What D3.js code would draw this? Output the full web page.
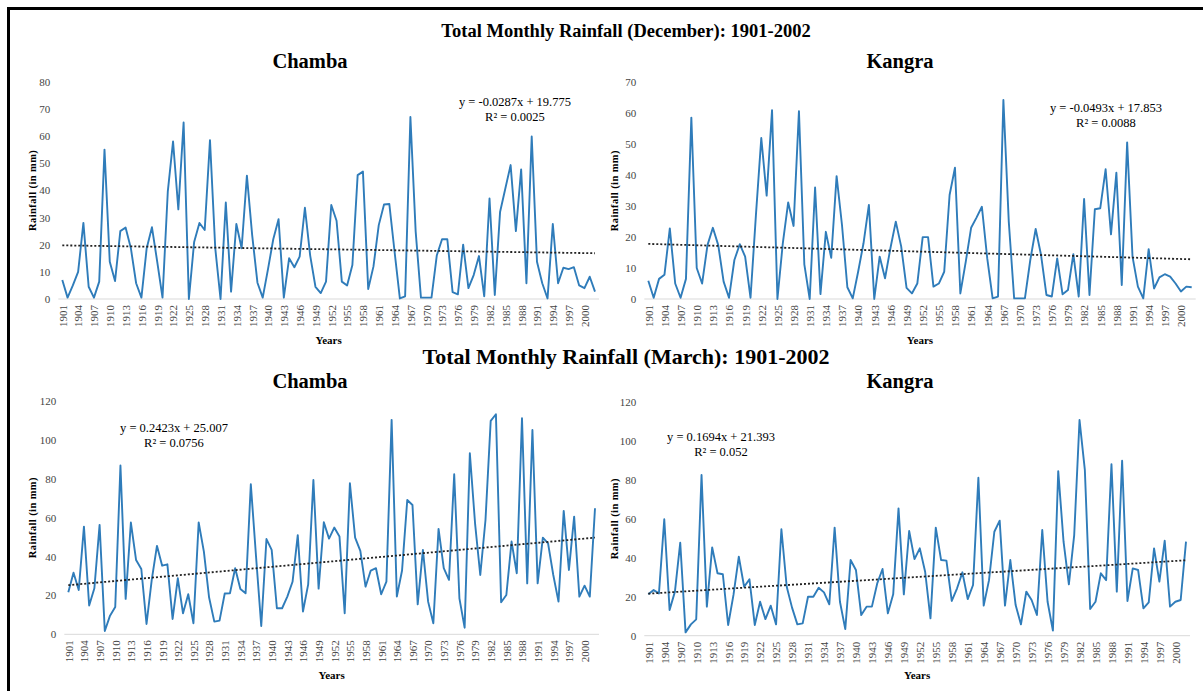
<!DOCTYPE html>
<html>
<head>
<meta charset="utf-8">
<script src="https://cdn.jsdelivr.net/npm/d3@7"></script>
<style>
  body { margin: 0; background: #fff; }
  svg { display: block; }
  text { font-family: "Liberation Serif", "Times New Roman", serif; }
</style>
</head>
<body>
<svg id="chart" width="1203" height="691"></svg>
<script>
// Years of record and the years shown on the category axis
const years = d3.range(1901, 2003);
const tickYears = d3.range(1901, 2003, 3);

// Total monthly rainfall (mm), one value per year 1901-2002
const chambaDec = [
  7, 0.5, 5, 10, 28, 4.5, 0.5, 6.4, 55, 13.7,
  6.6, 25, 26.3, 18.7, 5.8, 0.5, 18.7, 26.4, 13.7, 0.5,
  39.5, 58, 33, 65, 0, 21, 28, 25.4, 58.5, 18.7,
  0, 35.5, 2.7, 27.6, 18.7, 45.4, 23.5, 6, 0.5, 11,
  22, 29.4, 0.5, 15, 11.7, 15.6, 33.6, 16, 4.5, 2.2,
  6.4, 34.6, 28.8, 6.4, 5, 12.5, 45.6, 46.9, 3.7, 12,
  27.2, 34.8, 35, 17.4, 0.2, 1, 67, 24.8, 0.5, 0.5,
  0.5, 16, 22, 22, 2.5, 1.7, 20, 4, 8.8, 15.8,
  1, 37, 1.5, 32, 40.7, 49.3, 25, 47.7, 5.8, 59.8,
  13.7, 5.8, 0.2, 27.6, 5.8, 11.5, 11, 11.7, 5, 4,
  8.2, 2.7
];
const kangraDec = [
  5.9, 0.4, 6.5, 7.8, 22.8, 5, 0.4, 6.5, 58.6, 10,
  5, 17.4, 23, 17.4, 5.6, 0.4, 12.6, 17.7, 13.7, 0.4,
  27, 52, 33.4, 61, 0, 18, 31.2, 23.6, 60.7, 11.2,
  0, 36, 1.6, 21.7, 13.3, 39.7, 23.9, 3.8, 0.2, 8.8,
  18, 30.4, 0, 13.7, 6.7, 16.4, 25, 17, 3.6, 1.8,
  5, 20, 20, 4, 5, 8.8, 33.6, 42.4, 1.8, 12,
  23, 26.3, 29.8, 13.1, 0.2, 0.8, 64.3, 25, 0.2, 0.2,
  0.2, 12.6, 22.6, 14.2, 1.3, 0.8, 13.1, 1.5, 2.9, 14.5,
  0.8, 32.3, 1.3, 29, 29.3, 41.9, 20.9, 40.8, 4.5, 50.6,
  13.7, 4, 0.2, 16.1, 3.4, 7, 8, 7.2, 5, 2.4,
  4, 3.8
];
const chambaMar = [
  21.6, 31.7, 22.8, 55.4, 14.8, 23.7, 56.3, 1.7, 9.6, 14,
  86.8, 18.2, 57.5, 38.2, 33.6, 5.3, 28, 45.5, 35.3, 36,
  7.9, 28.8, 10.8, 20.6, 5.7, 57.5, 42.5, 18.9, 6.5, 7,
  21, 21.1, 34, 23.3, 21.1, 77.2, 40, 4.3, 49, 43.4,
  13.4, 13.4, 19.4, 27, 51, 11.7, 25.7, 79.4, 23.5, 57.6,
  49.2, 54.9, 50.3, 10.8, 77.7, 49.7, 42.9, 24.5, 32.8, 34,
  20.6, 27.1, 110.3, 19.4, 32.8, 69.1, 66.5, 15.4, 43.4, 16.8,
  5.7, 54.2, 34, 28, 82.3, 18.5, 3.4, 93.1, 57.1, 30.5,
  58.8, 109.8, 113.2, 16.5, 20.2, 47.7, 31.4, 111.1, 26.2, 105.1,
  26.2, 49.7, 46.8, 30.5, 16.8, 63.5, 33.1, 60.5, 19.4, 25,
  19.4, 64.8
];
const kangraMar = [
  21.2, 23.4, 21.7, 59.7, 13.2, 22.6, 47.7, 1.7, 5.8, 8.4,
  82.4, 14.9, 45.3, 32, 31.5, 5.5, 20.9, 40.5, 25.1, 28.9,
  5.5, 17.4, 8.5, 15.4, 5.8, 54.6, 25.1, 14.4, 5.8, 6.3,
  20, 20, 24.6, 22.2, 16.1, 55.4, 17.4, 3.4, 38.8, 33.7,
  10.6, 14.9, 14.9, 26.8, 34.2, 11.5, 21.2, 65.3, 21.2, 53.7,
  39.3, 44.8, 32.8, 8.9, 55.4, 38.8, 38.5, 17.8, 24.3, 32.5,
  18.8, 26, 81, 15.4, 28.5, 53.3, 59, 15.4, 38.8, 15.7,
  5.8, 22.6, 18.3, 10.6, 54.2, 17.4, 2.6, 84.4, 48.2, 26.3,
  51.6, 110.6, 85, 13.7, 17.4, 32, 28.5, 87.9, 22.6, 89.7,
  17.8, 34.5, 33.7, 14, 17.1, 44.8, 27.7, 48.7, 14.9, 17.4,
  18.3, 48.2
];

// Linear trend fits: [slope, intercept, R²], x = 1 for 1901 ... 102 for 2002
const chambaDecTrend = [-0.0287, 19.775, "0.0025"];
const kangraDecTrend = [-0.0493, 17.853, "0.0088"];
const chambaMarTrend = [0.2423, 25.007, "0.0756"];
const kangraMarTrend = [0.1694, 21.393, "0.052"];

// Value-axis ranges [max, step]
const chambaDecAxis = [80, 10];
const kangraDecAxis = [70, 10];
const chambaMarAxis = [120, 20];
const kangraMarAxis = [120, 20];

const sectionTitles = [
  "Total Monthly Rainfall (December): 1901-2002",
  "Total Monthly Rainfall (March): 1901-2002"
];

const svg = d3.select("#chart");
const W = 1203, H = 691;

svg.append("rect").attr("width", W).attr("height", H).attr("fill", "#fff");
// outer frame (runs off the right and bottom edges)
svg.append("rect")
  .attr("x", 8.5).attr("y", 8.5).attr("width", 1300).attr("height", 1000)
  .attr("fill", "none").attr("stroke", "#000").attr("stroke-width", 3);

// section headings
svg.append("text").attr("x", 626).attr("y", 37)
  .attr("text-anchor", "middle").attr("font-weight", "bold").attr("font-size", 18.5)
  .text(sectionTitles[0]);
svg.append("text").attr("x", 626).attr("y", 364)
  .attr("text-anchor", "middle").attr("font-weight", "bold").attr("font-size", 22)
  .text(sectionTitles[1]);

const panels = [
  { name: "Chamba", values: chambaDec, trend: chambaDecTrend, axis: chambaDecAxis,
    left: 62.3, right: 595, bottom: 299, top: 81.7,
    titleX: 310, titleY: 68, eqX: 515, eqY: 106, yTitleX: 36, yearsY: 344 },
  { name: "Kangra", values: kangraDec, trend: kangraDecTrend, axis: kangraDecAxis,
    left: 648.3, right: 1191.7, bottom: 299, top: 82.3,
    titleX: 900, titleY: 68, eqX: 1106, eqY: 112, yTitleX: 618, yearsY: 344 },
  { name: "Chamba", values: chambaMar, trend: chambaMarTrend, axis: chambaMarAxis,
    left: 68.3, right: 595, bottom: 634.3, top: 401,
    titleX: 310, titleY: 388, eqX: 174, eqY: 432, yTitleX: 36, yearsY: 679 },
  { name: "Kangra", values: kangraMar, trend: kangraMarTrend, axis: kangraMarAxis,
    left: 648.3, right: 1186, bottom: 635.7, top: 401.7,
    titleX: 900, titleY: 388, eqX: 721, eqY: 441, yTitleX: 618, yearsY: 679 }
];

panels.forEach(p => {
  const g = svg.append("g");
  const x = d3.scaleLinear().domain([1901, 2002]).range([p.left, p.right]);
  const y = d3.scaleLinear().domain([0, p.axis[0]]).range([p.bottom, p.top]);

  // panel title
  g.append("text").attr("x", p.titleX).attr("y", p.titleY)
    .attr("text-anchor", "middle").attr("font-weight", "bold").attr("font-size", 20.5)
    .text(p.name);

  // value axis labels
  const yAxis = d3.axisLeft(y)
    .tickValues(d3.range(0, p.axis[0] + 0.001, p.axis[1]))
    .tickSize(0).tickPadding(12).tickFormat(d3.format("d"));
  const ya = g.append("g").attr("transform", `translate(${p.left},0)`).call(yAxis);
  ya.select(".domain").remove();
  ya.selectAll("text").attr("font-family", "Liberation Serif, serif")
    .attr("font-size", 11).attr("fill", "#444");

  // horizontal category axis line
  g.append("line")
    .attr("x1", p.left - 4).attr("x2", p.right + 4)
    .attr("y1", y(0)).attr("y2", y(0))
    .attr("stroke", "#d9d9d9").attr("stroke-width", 1);

  // year labels, rotated
  const xAxis = d3.axisBottom(x).tickValues(tickYears).tickSize(0).tickFormat(d3.format("d"));
  const xa = g.append("g").attr("transform", `translate(0,${p.bottom})`).call(xAxis);
  xa.select(".domain").remove();
  xa.selectAll("text")
    .attr("font-family", "Liberation Serif, serif")
    .attr("font-size", 11).attr("fill", "#444")
    .attr("transform", "rotate(-90)")
    .attr("text-anchor", "end")
    .attr("x", -6).attr("y", 0).attr("dy", "0.35em");

  // axis titles
  g.append("text")
    .attr("transform", `translate(${p.yTitleX},${(p.top + p.bottom) / 2}) rotate(-90)`)
    .attr("text-anchor", "middle").attr("font-weight", "bold").attr("font-size", 10.5)
    .attr("letter-spacing", 0.4)
    .text("Rainfall  (in mm)");
  g.append("text").attr("x", (p.left + p.right) / 2).attr("y", p.yearsY)
    .attr("text-anchor", "middle").attr("font-weight", "bold").attr("font-size", 11)
    .text("Years");

  // rainfall series
  const pts = years.map((yr, i) => [yr, p.values[i]]);
  g.append("path").datum(pts)
    .attr("fill", "none").attr("stroke", "#2f7cba").attr("stroke-width", 1.9)
    .attr("stroke-linejoin", "round")
    .attr("d", d3.line().x(d => x(d[0])).y(d => y(d[1])));

  // linear trend
  const [a, b, r2] = p.trend;
  const fit = [1901, 2002].map(yr => [yr, a * (yr - 1900) + b]);
  g.append("path").datum(fit)
    .attr("fill", "none").attr("stroke", "#222").attr("stroke-width", 1.8)
    .attr("stroke-dasharray", "2,2")
    .attr("d", d3.line().x(d => x(d[0])).y(d => y(d[1])));

  // trend equation
  const sign = b >= 0 ? "+" : "-";
  g.append("text").attr("x", p.eqX).attr("y", p.eqY)
    .attr("text-anchor", "middle").attr("font-size", 12.5)
    .text(`y = ${a}x ${sign} ${Math.abs(b)}`);
  g.append("text").attr("x", p.eqX).attr("y", p.eqY + 15)
    .attr("text-anchor", "middle").attr("font-size", 12.5)
    .text(`R² = ${r2}`);
});
</script>
</body>
</html>
